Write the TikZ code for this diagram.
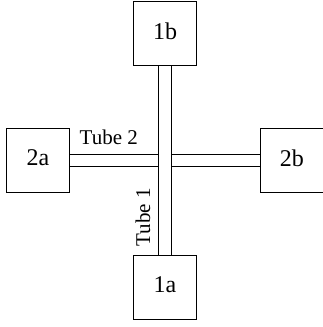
\documentclass[tikz,border=0pt]{standalone}
\usepackage{fontspec}
\setmainfont{Liberation Serif}
\usetikzlibrary{backgrounds}
\begin{document}
\begin{tikzpicture}[x=1pt,y=1pt,
  reservoir/.style={draw, line width=1pt, fill=white, minimum size=63.5pt,
    inner sep=0pt, text depth=6pt, font=\fontsize{24}{28}\selectfont},
  tubeline/.style={line width=1pt, double=white},
  tubelabel/.style={anchor=base, inner sep=0pt, font=\fontsize{21}{25}\selectfont}]
  \useasboundingbox (0,0) rectangle (323,327);
  % the four reservoirs
  \node[reservoir] (b1) at (165,293.3) {1b};
  \node[reservoir] (a1) at (165,39.5) {1a};
  \node[reservoir] (a2) at (38,166.3) {2a};
  \node[reservoir] (b2) at (291.8,166.3) {2b};
  % the two tubes; tube 1 passes over tube 2
  \begin{scope}[on background layer]
    \draw[tubeline, double distance=11.4pt] (a2) -- (b2);
    \draw[tubeline, double distance=12.4pt] (a1) -- (b1);
  \end{scope}
  \node[tubelabel] (t2) at (108.8,182) {Tube 2};
  \node[tubelabel, rotate=90] (t1) at (150,109.5) {Tube 1};
\end{tikzpicture}
\end{document}
